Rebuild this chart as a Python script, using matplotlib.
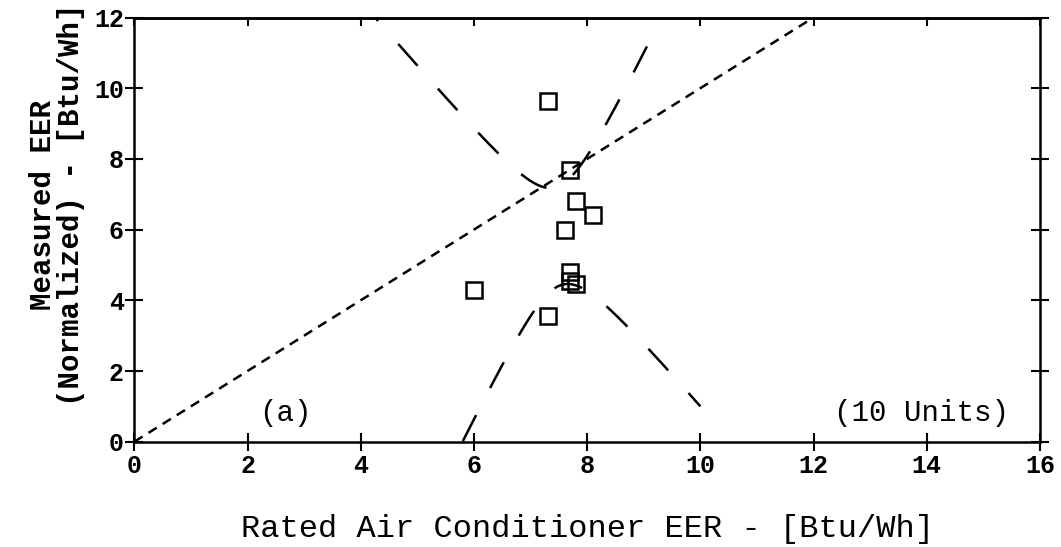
import numpy as np
import matplotlib
matplotlib.use("Agg")
import matplotlib.pyplot as plt

# Ten field-tested units: rated vs. measured (normalized) EER, Btu/Wh
rated_eer = [7.3, 7.7, 7.8, 8.1, 7.6, 7.7, 7.7, 7.8, 6.0, 7.3]
measured_eer = [9.65, 7.7, 6.8, 6.4, 6.0, 4.8, 4.55, 4.45, 4.3, 3.55]

x_ticks = [0, 2, 4, 6, 8, 10, 12, 14, 16]
y_ticks = [0, 2, 4, 6, 8, 10, 12]
panel_label = "(a)"
count_label = "(10 Units)"
x_label = "Rated Air Conditioner EER - [Btu/Wh]"
y_label = "Measured EER\n(Normalized) - [Btu/Wh]"

plt.rcParams["lines.scale_dashes"] = False
mono = ["Liberation Mono", "DejaVu Sans Mono"]

fig = plt.figure(figsize=(10.61, 5.47), dpi=100)
ax = fig.add_axes([0.1266, 0.1925, 0.8536, 0.7755])
ax.set_xlim(0, 16)
ax.set_ylim(0, 12)

# one-to-one reference line
ax.plot([0, 12], [0, 12], color="black", lw=1.8, dashes=(7, 5))

# least-squares fit with its 95 % confidence band
x = np.asarray(rated_eer)
y = np.asarray(measured_eer)
n = len(x)
slope, intercept = np.polyfit(x, y, 1)
resid = y - (intercept + slope * x)
s = np.sqrt(np.sum(resid ** 2) / (n - 2))
sxx = np.sum((x - x.mean()) ** 2)
t_crit = 2.306  # Student t, 8 degrees of freedom, two-sided 95 %
xs = np.linspace(3.0, 10.0, 400)
fit = intercept + slope * xs
half = t_crit * s * np.sqrt(1.0 / n + (xs - x.mean()) ** 2 / sxx)
ax.plot(xs, fit + half, color="black", lw=1.8, dashes=(21, 22))
ax.plot(xs, fit - half, color="black", lw=1.8, dashes=(21, 22))

# measured units
ax.plot(rated_eer, measured_eer, linestyle="none", marker="s", ms=11.5,
        mfc="none", mec="black", mew=1.8, zorder=5)

ax.text(2.67, 0.8, panel_label, family=mono, fontsize=21, ha="center", va="center")
ax.text(13.9, 0.8, count_label, family=mono, fontsize=21, ha="center", va="center")

for sp in ax.spines.values():
    sp.set_linewidth(1.8)

ax.set_xticks(x_ticks)
ax.set_yticks(y_ticks)
ax.tick_params(axis="x", direction="inout", length=13, width=1.5, pad=2,
               top=False)
ax.tick_params(axis="y", direction="inout", length=13, width=1.5, pad=1,
               right=True)
for lab in ax.get_xticklabels() + ax.get_yticklabels():
    lab.set_family(mono)
    lab.set_fontsize(18)
    lab.set_fontweight("bold")

top = ax.secondary_xaxis("top")
top.set_xticks(x_ticks)
top.tick_params(direction="in", length=6, width=1.5, labeltop=False)
top.spines["top"].set_linewidth(1.8)

ax.set_xlabel(x_label, family=mono, fontsize=23, labelpad=26)
ax.set_ylabel(y_label, family=mono, fontsize=21, fontweight="bold",
              linespacing=1.0)
ax.yaxis.set_label_coords(-0.054, 0.558)

fig.savefig("out.png", dpi=100)
